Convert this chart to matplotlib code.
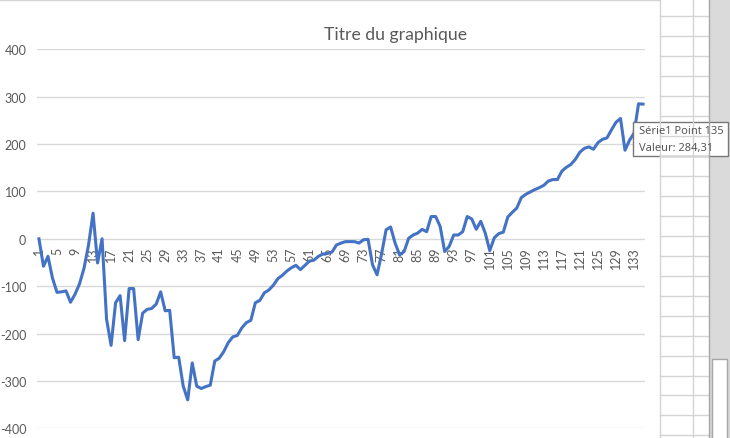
import matplotlib
matplotlib.use("Agg")
import matplotlib.pyplot as plt
from matplotlib.patches import Rectangle

plt.rcParams['font.family'] = ['Lato', 'DejaVu Sans']

# ---- data ----
points = list(range(1, 136))
values = [
    0, -58, -37, -83, -113, -112, -110, -134, -117, -95,
    -62, -13, 54, -51, 0, -170, -225, -135, -120, -215,
    -105, -105, -213, -157, -149, -147, -138, -112, -152, -151,
    -251, -250, -311, -340, -262, -311, -316, -312, -309, -258,
    -252, -238, -219, -207, -204, -188, -177, -172, -135, -130,
    -114, -108, -98, -84, -77, -68, -61, -56, -65, -56,
    -47, -45, -37, -32, -31, -28, -13, -9, -6, -6,
    -6, -9, -2, -1, -55, -76, -32, 19, 25, -9,
    -34, -27, 1, 8, 12, 20, 15, 47, 47, 26,
    -27, -16, 8, 8, 15, 47, 42, 20, 37, 12,
    -25, 2, 11, 14, 46, 56, 65, 87, 94, 99,
    104, 108, 113, 122, 125, 125, 143, 151, 157, 168,
    183, 191, 194, 189, 203, 210, 213, 230, 246, 254,
    187, 208, 223, 285, 284.31,
]
x_tick_values = list(range(1, 136, 4))
x_tick_labels = [str(v) for v in x_tick_values]
y_ticks = [-400, -300, -200, -100, 0, 100, 200, 300, 400]
title = "Titre du graphique"
tooltip_lines = ["Série1 Point 135", "Valeur: 284,31"]

W, H = 730, 439
fig = plt.figure(figsize=(W / 100, H / 100), dpi=100)
fig.patch.set_facecolor('white')

TXT = '#595959'
GRID = '#D9D9D9'

# main plot axes (pixel-derived position)
left_px, right_px = 36.7, 645.3
top_px, bot_px = 50.3, 429.3
ax = fig.add_axes([left_px / W, 1 - bot_px / H, (right_px - left_px) / W, (bot_px - top_px) / H])
ax.set_facecolor('none')
ax.plot(points, values, color='#4472C4', lw=2.2, solid_joinstyle='round', zorder=3, clip_on=False)
ax.set_xlim(0.5, 135.5)
ax.set_ylim(-400, 400)
ax.set_yticks(y_ticks)
ax.set_yticklabels([str(v) for v in y_ticks])
ax.yaxis.grid(True, color=GRID, lw=1)
ax.set_axisbelow(True)
for s in ['top', 'right', 'left']:
    ax.spines[s].set_visible(False)
ax.spines['bottom'].set_position(('data', 0))
ax.spines['bottom'].set_color('none')
ax.set_xticks(x_tick_values)
ax.set_xticklabels(x_tick_labels, rotation=90)
ax.tick_params(axis='x', length=0, pad=5.5, labelsize=9, labelcolor=TXT)
ax.tick_params(axis='y', length=0, pad=7.5, labelsize=9, labelcolor=TXT)
for lab in ax.get_xticklabels():
    lab.set_zorder(1)

fig.text(396 / W, 1 - 35 / H, title, ha='center', va='center', fontsize=12.7, color=TXT)

# ---- overlay: spreadsheet surroundings and tooltip ----
ov = fig.add_axes([0, 0, 1, 1], zorder=10)
ov.set_xlim(0, W)
ov.set_ylim(H, 0)
ov.axis('off')
ov.patch.set_alpha(0)

cell = '#D4D4D4'
ov.plot([0, 659], [1, 1], color=cell, lw=1)
ov.plot([659.5, 659.5], [0, H], color=cell, lw=1)
ov.plot([692.5, 692.5], [0, H], color=cell, lw=1)
for yy in range(16, H, 20):
    ov.plot([659.5, 708], [yy + 0.5, yy + 0.5], color=cell, lw=1)
ov.plot([708.5, 708.5], [0, H], color='#A6A6A6', lw=1)
ov.add_patch(Rectangle((709, 0), 21, H, facecolor='#DADADA', edgecolor='none'))
ov.add_patch(Rectangle((712, 360), 15, 90, facecolor='white', edgecolor='#A6A6A6', lw=1))

ov.add_patch(Rectangle((633, 123), 95, 34, facecolor='white', edgecolor='#767676', lw=1))
ov.text(639, 131.5, tooltip_lines[0], ha='left', va='center', fontsize=8.0,
        color='#575757', family=['Noto Sans', 'DejaVu Sans'])
ov.text(639, 148.5, tooltip_lines[1], ha='left', va='center', fontsize=8.0,
        color='#575757', family=['Noto Sans', 'DejaVu Sans'])

fig.savefig('out.png', dpi=100)
